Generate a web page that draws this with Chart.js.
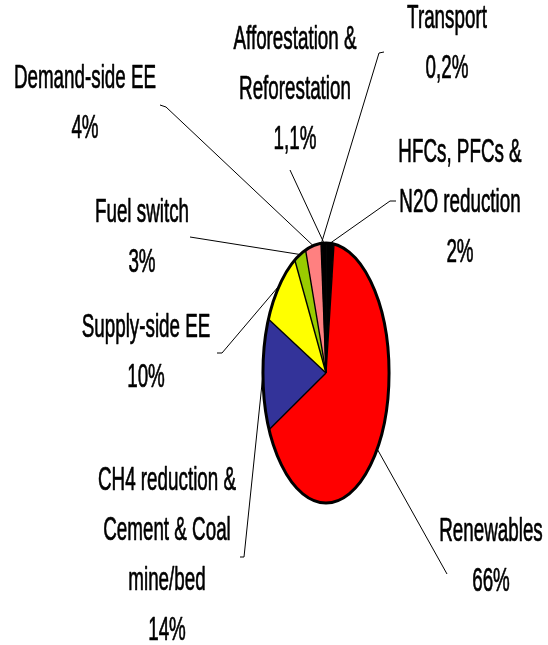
<!DOCTYPE html>
<html>
<head>
<meta charset="utf-8">
<script src="https://cdn.jsdelivr.net/npm/chart.js@4.4.1/dist/chart.umd.min.js"></script>
<style>
    html, body { margin: 0; padding: 0; background: #fff; overflow: hidden; }
    .chart-box { position: relative; width: 548px; height: 645px; }
</style>
</head>
<body>
<div class="chart-box"><canvas id="pieChart"></canvas></div>
<script>
// slices, clockwise starting just right of 12 o'clock
const categories = [
    'Renewables',
    'CH4 reduction & Cement & Coal mine/bed',
    'Supply-side EE',
    'Fuel switch',
    'Demand-side EE',
    'Transport',
    'Afforestation & Reforestation',
    'HFCs, PFCs & N2O reduction',
];
const shares = [66, 14, 10, 3, 4, 0.2, 1.1, 2];
const shareLabels = ['66%', '14%', '10%', '3%', '4%', '0,2%', '1,1%', '2%'];
const labelLines = [
    ['Renewables'],
    ['CH4 reduction &', 'Cement & Coal', 'mine/bed'],
    ['Supply-side EE'],
    ['Fuel switch'],
    ['Demand-side EE'],
    ['Transport'],
    ['Afforestation &', 'Reforestation'],
    ['HFCs, PFCs &', 'N2O reduction'],
];
const sliceColors = ['#ff0000', '#333399', '#ffff00', '#99cc00', '#ff8080', '#0066cc', '#000000', '#000000'];

// label placement: text centre x, first baseline y, leader line start points
const labelLayout = [
    { x: 491, y: 541, leader: [[447, 574]] },
    { x: 167, y: 490, leader: [[240, 557], [244, 557]] },
    { x: 146, y: 337, leader: [[217, 353], [222, 353]] },
    { x: 142, y: 222, leader: [[190, 237]] },
    { x: 85, y: 88, leader: [[160, 105], [166, 107]] },
    { x: 447, y: 28, leader: [[384, 52], [379, 53]] },
    { x: 295, y: 49, leader: [[290, 170]] },
    { x: 460, y: 162, leader: [[396, 201], [390, 201]] },
];

const ELLIPSE_X = 0.485;
const TEXT_X = 0.57;
const LINE_GAP = 50;
const FONT = '33px "Liberation Sans", Arial, sans-serif';

function squash(ctx, cx) {
    ctx.translate(cx, 0);
    ctx.scale(ELLIPSE_X, 1);
    ctx.translate(-cx, 0);
}

const ellipsePlugin = {
    id: 'ellipse',
    beforeDatasetsDraw(chart) {
        const arc = chart.getDatasetMeta(0).data[0];
        chart.ctx.save();
        squash(chart.ctx, arc.x);
    },
    afterDatasetsDraw(chart) {
        const ctx = chart.ctx;
        ctx.restore();
        const arcs = chart.getDatasetMeta(0).data;
        ctx.strokeStyle = '#000';
        ctx.lineJoin = 'round';
        arcs.forEach((arc) => {
            ctx.save();
            squash(ctx, arc.x);
            ctx.beginPath();
            ctx.moveTo(arc.x, arc.y);
            ctx.lineTo(arc.x + arc.outerRadius * Math.cos(arc.startAngle), arc.y + arc.outerRadius * Math.sin(arc.startAngle));
            ctx.restore();
            ctx.lineWidth = 1.4;
            ctx.stroke();
        });
        const first = arcs[0];
        ctx.save();
        squash(ctx, first.x);
        ctx.beginPath();
        ctx.arc(first.x, first.y, first.outerRadius, 0, Math.PI * 2);
        ctx.restore();
        ctx.lineWidth = 3;
        ctx.stroke();
    },
};

const labelPlugin = {
    id: 'pieLabels',
    afterDraw(chart) {
        const ctx = chart.ctx;
        const arcs = chart.getDatasetMeta(0).data;
        arcs.forEach((arc, i) => {
            const layout = labelLayout[i];
            const mid = (arc.startAngle + arc.endAngle) / 2;
            const ax = arc.x + ELLIPSE_X * arc.outerRadius * Math.cos(mid);
            const ay = arc.y + arc.outerRadius * Math.sin(mid);

            ctx.save();
            ctx.strokeStyle = '#000';
            ctx.lineWidth = 1;
            ctx.beginPath();
            layout.leader.forEach(([x, y], k) => (k ? ctx.lineTo(x, y) : ctx.moveTo(x, y)));
            ctx.lineTo(ax, ay);
            ctx.stroke();
            ctx.restore();

            const lines = [...labelLines[i], shareLabels[i]];
            ctx.save();
            ctx.font = FONT;
            ctx.fillStyle = '#000';
            ctx.strokeStyle = '#000';
            ctx.lineWidth = 0.7;
            ctx.textAlign = 'center';
            ctx.textBaseline = 'alphabetic';
            lines.forEach((text, k) => {
                ctx.save();
                ctx.translate(layout.x, layout.y + k * LINE_GAP);
                ctx.scale(TEXT_X, 1);
                ctx.fillText(text, 0, 0);
                ctx.strokeText(text, 0, 0);
                ctx.restore();
            });
            ctx.restore();
        });
    },
};

new Chart(document.getElementById('pieChart'), {
    type: 'pie',
    data: {
        labels: categories,
        datasets: [{
            data: shares,
            backgroundColor: sliceColors,
            borderWidth: 0,
        }],
    },
    options: {
        responsive: true,
        maintainAspectRatio: false,
        animation: false,
        rotation: 7.3,
        layout: { padding: { top: 243, bottom: 142, left: 196, right: 92 } },
        plugins: {
            legend: { display: false },
            tooltip: { enabled: false },
        },
    },
    plugins: [ellipsePlugin, labelPlugin],
});
</script>
</body>
</html>
